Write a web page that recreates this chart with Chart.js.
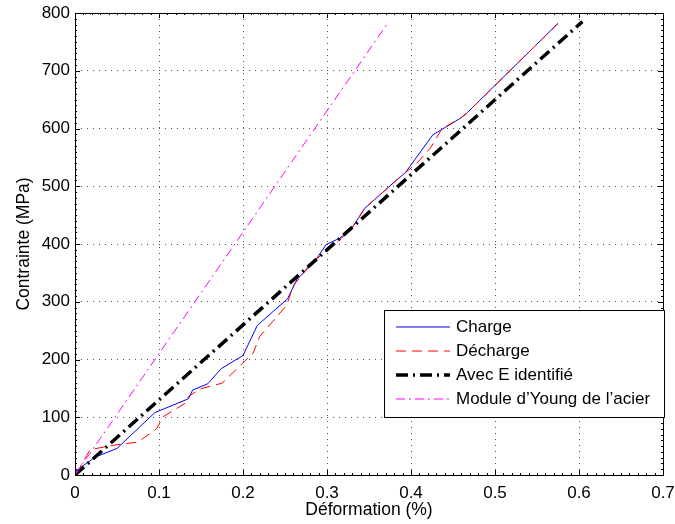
<!DOCTYPE html>
<html>
<head>
<meta charset="utf-8">
<script src="https://cdn.jsdelivr.net/npm/chart.js@4/dist/chart.umd.min.js"></script>
<style>
  html, body { margin: 0; padding: 0; background: #fff; }
  #wrap { width: 675px; height: 524px; }
</style>
</head>
<body>
<div id="wrap"><canvas id="chartContrainte"></canvas></div>
<script>
// Déformation (%) / Contrainte (MPa)
const chargeX = [0, 0.024, 0.050, 0.095, 0.135, 0.140, 0.158, 0.174, 0.200, 0.217, 0.253, 0.264, 0.286, 0.299, 0.315, 0.329, 0.345, 0.383, 0.393, 0.426, 0.458, 0.466, 0.575];
const chargeY = [6, 31, 46, 108, 132, 147, 158, 184, 207, 259, 305, 338, 371, 399, 410, 426, 462, 511, 523, 589, 617, 626, 782];

const dechargeX = [0.002, 0.018, 0.048, 0.075, 0.097, 0.105, 0.131, 0.135, 0.149, 0.175, 0.197, 0.212, 0.220, 0.252, 0.260, 0.280, 0.314, 0.329, 0.345, 0.383, 0.407, 0.423, 0.437, 0.458, 0.466, 0.575];
const dechargeY = [3, 44, 52, 57, 80, 101, 124, 136, 149, 159, 190, 211, 240, 294, 328, 365, 406, 426, 462, 511, 540, 566, 600, 617, 626, 782];

const identifieX = [0, 0.604];
const identifieY = [0, 785];

const acierX = [0, 0.373];
const acierY = [0, 784];

const xTicks = [0, 0.1, 0.2, 0.3, 0.4, 0.5, 0.6, 0.7];
const yTicks = [0, 100, 200, 300, 400, 500, 600, 700, 800];

const police = "'Liberation Sans', Arial, sans-serif";

function points(xs, ys) {
    return xs.map((x, i) => ({ x: x, y: ys[i] }));
}

// cadre, graduations vers l'intérieur et légende
const cadrePlugin = {
    id: "cadre",
    afterDraw(chart) {
        const ctx = chart.ctx;
        const a = chart.chartArea;
        const sx = chart.scales.x, sy = chart.scales.y;
        ctx.save();
        ctx.strokeStyle = "#000";
        ctx.lineWidth = 1;
        ctx.beginPath();
        for (let v = 0; v <= 70; v++) {
            const px = Math.round(sx.getPixelForValue(v / 100)) + 0.5;
            const len = v % 10 === 0 ? 5 : 2;
            ctx.moveTo(px, a.bottom); ctx.lineTo(px, a.bottom - len);
            ctx.moveTo(px, a.top); ctx.lineTo(px, a.top + len);
        }
        for (let v = 0; v <= 800; v += 10) {
            const py = Math.round(sy.getPixelForValue(v)) + 0.5;
            const len = v % 100 === 0 ? 5 : 2;
            ctx.moveTo(a.left, py); ctx.lineTo(a.left + len, py);
            ctx.moveTo(a.right, py); ctx.lineTo(a.right - len, py);
        }
        ctx.stroke();
        ctx.strokeRect(Math.round(a.left) + 0.5, Math.round(a.top) + 0.5,
                       Math.round(a.right - a.left), Math.round(a.bottom - a.top));

        // légende
        const bx = 384.5, by = 310.5, bw = 280, bh = 107;
        ctx.fillStyle = "#fff";
        ctx.fillRect(bx, by, bw, bh);
        ctx.strokeRect(bx, by, bw, bh);
        ctx.font = "17px " + police;
        ctx.textBaseline = "middle";
        ctx.textAlign = "left";
        chart.data.datasets.forEach((ds, i) => {
            const y = 327 + i * 24;
            ctx.beginPath();
            ctx.setLineDash(ds.borderDash || []);
            ctx.strokeStyle = ds.borderColor;
            ctx.lineWidth = ds.borderWidth;
            ctx.moveTo(396, y);
            ctx.lineTo(450, y);
            ctx.stroke();
            ctx.setLineDash([]);
            ctx.fillStyle = "#000";
            ctx.fillText(ds.label, 456, y);
        });
        ctx.restore();
    }
};

new Chart(document.getElementById("chartContrainte"), {
    type: "line",
    data: {
        datasets: [
            { label: "Charge", data: points(chargeX, chargeY), borderColor: "#0000ff", borderWidth: 1, order: 3 },
            { label: "Décharge", data: points(dechargeX, dechargeY), borderColor: "#ff0000", borderWidth: 1, borderDash: [10, 6], order: 2 },
            { label: "Avec E identifié", data: points(identifieX, identifieY), borderColor: "#000000", borderWidth: 3.5, borderDash: [12, 5, 2, 5], order: 1 },
            { label: "Module d\u2019Young de l\u2019acier", data: points(acierX, acierY), borderColor: "#ff00ff", borderWidth: 1, borderDash: [9, 4, 2, 4], order: 0 }
        ]
    },
    options: {
        responsive: true,
        maintainAspectRatio: false,
        animation: false,
        elements: { point: { radius: 0 }, line: { tension: 0, fill: false } },
        layout: { padding: { left: 0, right: 12, top: 13, bottom: 0 } },
        plugins: { legend: { display: false }, tooltip: { enabled: false } },
        scales: {
            x: {
                type: "linear",
                min: 0, max: 0.7,
                afterFit: s => { s.height = 49; s.paddingLeft = 0; s.paddingRight = 0; },
                afterBuildTicks: s => { s.ticks = xTicks.map(v => ({ value: v })); },
                ticks: {
                    color: "#000",
                    font: { family: police, size: 17 },
                    padding: 8,
                    maxRotation: 0,
                    callback: v => String(+v.toFixed(1))
                },
                grid: { color: "#555", drawTicks: false },
                border: { display: false, dash: [1, 5] },
                title: {
                    display: true, text: "Déformation (%)", color: "#000",
                    font: { family: police, size: 17.5 },
                    padding: { top: 0, bottom: 3 }
                }
            },
            y: {
                min: 0, max: 800,
                afterFit: s => { s.width = 75; s.paddingTop = 0; s.paddingBottom = 0; },
                afterBuildTicks: s => { s.ticks = yTicks.map(v => ({ value: v })); },
                ticks: {
                    color: "#000",
                    font: { family: police, size: 17 },
                    padding: 5
                },
                grid: { color: "#555", drawTicks: false },
                border: { display: false, dash: [1, 5] },
                title: {
                    display: true, text: "Contrainte (MPa)", color: "#000",
                    font: { family: police, size: 17.5 },
                    padding: { top: 14, bottom: 0 }
                }
            }
        }
    },
    plugins: [cadrePlugin]
});
</script>
</body>
</html>
